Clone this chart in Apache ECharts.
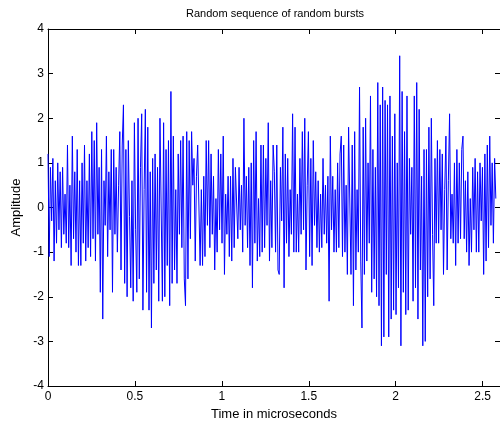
<!DOCTYPE html>
<html>
<head>
<meta charset="utf-8">
<script src="https://cdn.jsdelivr.net/npm/echarts@6/dist/echarts.min.js"></script>
<style>html,body{margin:0;padding:0;background:#fff}#c{width:500px;height:426px}</style>
</head>
<body>
<div id="c"></div>
<script>
var titleText = 'Random sequence of random bursts';
var xName = 'Time in microseconds';
var yName = 'Amplitude';
var xTicks = [0, 0.5, 1, 1.5, 2, 2.5];
var yTicks = [-4, -3, -2, -1, 0, 1, 2, 3, 4];
var timeStep = 0.007; // microseconds between samples
var amplitude = [
  1.2, -1.1, 0.9, -0.3, 1.1, -1.2, 0.6, -0.8, 1.0, -0.5, 0.8, -0.9, 0.9, -0.6, 0.3, -0.8, 1.4, -0.9, 0.5, -1.3, 1.6, -0.7, 0.8, -1.0, 1.3, -1.3, 0.6, -1.3, 1.0, -0.8, 1.4,
  -1.2, 0.6, -0.9, 1.2, -1.1, 1.7, -0.7, 1.5, -1.2, 1.9, -0.6, 0.9, -1.9, 1.3, -2.5, 0.6, -0.4, 1.6, -1.1, 0.8, -0.5, 1.3, -1.9, 1.3, -0.6, 0.9, -1.0, 0.5, 1.7, -1.4, 1.4,
  2.3, -1.7, 1.3, -2.0, 1.5, -0.2, -1.8, 0.6, -2.1, 1.9, -0.5, -1.9, 2.0, -1.6, 0.9, 2.1, -2.3, 0.4, 2.2, -1.9, 1.8, -2.3, 0.8, -2.7, 1.1, -1.7, 1.2, -1.4, 0.9, -2.1, 2.0,
  2.0, -2.1, 1.9, -2.0, 1.3, -1.3, 1.5, -2.2, 2.6, -1.7, 1.6, -1.4, 0.4, -1.7, 1.2, -0.6, 1.5, -0.9, 1.6, -1.6, -2.2, 1.7, -1.6, 1.5, -0.7, 1.7, 0.5, 1.1, -1.2, 0.7, 1.4,
  1.4, -1.3, 0.4, -1.3, 0.7, -1.1, 1.5, -0.4, 1.5, -0.9, 1.2, -0.6, 0.7, -1.4, 0.2, -1.0, 1.3, -0.5, 1.2, -0.8, 1.6, -1.5, 0.3, -0.6, 0.7, -1.1, 0.7, -1.2, 1.1, -0.9, 0.9,
  0.9, -0.7, 0.9, -0.5, 0.5, -1.0, 2.0, -0.4, 0.7, -0.9, 0.9, -1.3, 1.0, -1.8, 1.5, -0.8, 1.7, -1.2, 0.2, -1.1, 1.4, -1.0, 1.4, -0.9, 1.1, -0.4, 1.9, -1.2, 0.6, -0.9, 1.4,
  0.8, -1.0, 1.4, -1.4, -1.5, 0.9, -0.3, 1.8, -1.8, 1.2, -0.8, 1.1, -1.1, 0.4, -0.6, 2.1, -1.0, 1.8, -1.0, 0.3, -1.0, 1.1, -0.6, 1.7, -0.5, 2.0, -1.4, 0.5, 1.7, -1.1, 1.1,
  -1.3, 1.5, -0.4, 0.8, -0.9, 0.6, -1.0, 0.3, -0.9, 1.1, -0.6, 0.5, -0.8, 0.7, -2.1, 1.6, -0.5, 0.7, -1.0, 0.4, -1.0, 1.0, -0.9, 1.2, 1.6, -1.1, 1.4, -1.0, 0.5, -1.5, 1.8,
  1.8, -1.5, 1.4, -2.2, 1.7, -1.4, 0.4, -1.0, 2.7, -1.2, -2.7, 1.8, -1.5, 2.0, -1.2, 1.0, -0.8, 2.5, -1.9, 1.3, -1.6, 0.9, -2.0, 2.8, -2.2, 2.3, -3.1, 2.7, -2.9, 2.4, -1.5,
  2.3, -2.9, 2.5, -2.5, 1.6, -2.3, 2.1, -2.4, 1.0, -1.8, 3.4, -3.1, 2.6, -1.9, 1.7, -2.4, 2.5, -2.3, 1.1, -0.6, 0.9, -2.1, 2.5, -1.8, 2.8, -2.5, 2.2, -1.4, 0.7, -3.1, 1.3,
  -3.0, 1.3, -2.0, 1.8, -1.6, 2.0, -0.6, -2.2, 1.1, -0.8, 1.5, -0.8, 1.3, -0.5, 1.2, -1.5, 0.4, 1.6, -1.4, 0.6, 2.1, -0.7, 0.3, -0.8, 1.0, -1.3, 1.3, -0.8, 1.0, -0.7, 1.3,
  1.6, -0.7, 0.6, -1.0, 0.8, -1.3, 0.2, -1.0, 0.9, -0.5, 1.1, -1.0, 0.8, -1.0, 1.0, -0.3, 0.9, -1.5, 1.2, -1.2, 1.4, -0.9, 1.6, -0.4, 1.0, -0.8, 1.1, 0.2
];

var seriesData = amplitude.map(function (v, i) { return [i * timeStep, v]; });
var FONT = 'Liberation Sans, Arial, Helvetica, sans-serif';

var chart = echarts.init(document.getElementById('c'), null, { renderer: 'canvas' });
var axisLineStyle = { color: '#000', width: 1 };
chart.setOption({
  animation: false,
  backgroundColor: '#fff',
  title: {
    text: titleText, left: 270, top: 3, textAlign: 'center',
    textStyle: { fontFamily: FONT, fontSize: 11, fontWeight: 'normal', color: '#000' }
  },
  grid: { left: 48, top: 29, width: 453.7, height: 357, containLabel: false },
  xAxis: [{
    type: 'value', min: xTicks[0], max: 2.6, interval: 0.5, position: 'bottom',
    name: xName, nameLocation: 'middle', nameGap: 20,
    nameTextStyle: { fontFamily: FONT, fontSize: 13, color: '#000' },
    axisLine: { onZero: false, lineStyle: axisLineStyle },
    axisTick: { inside: true, length: 5, lineStyle: axisLineStyle },
    axisLabel: { fontFamily: FONT, fontSize: 12, color: '#000', margin: 5, showMaxLabel: false,
      formatter: function (v) { return xTicks.indexOf(v) >= 0 ? String(v) : ''; } },
    splitLine: { show: false }
  }, {
    type: 'value', min: xTicks[0], max: 2.6, interval: 0.5, position: 'top',
    axisLine: { onZero: false, lineStyle: axisLineStyle },
    axisTick: { inside: true, length: 5, lineStyle: axisLineStyle },
    axisLabel: { show: false }, splitLine: { show: false }
  }],
  yAxis: [{
    type: 'value', min: yTicks[0], max: yTicks[yTicks.length - 1], interval: 1, position: 'left',
    name: yName, nameLocation: 'middle', nameGap: 23,
    nameTextStyle: { fontFamily: FONT, fontSize: 13, color: '#000' },
    axisLine: { onZero: false, lineStyle: axisLineStyle },
    axisTick: { inside: true, length: 5, lineStyle: axisLineStyle },
    axisLabel: { fontFamily: FONT, fontSize: 12, color: '#000', margin: 4 },
    splitLine: { show: false }
  }, {
    type: 'value', min: yTicks[0], max: yTicks[yTicks.length - 1], interval: 1, position: 'right',
    axisLine: { onZero: false, lineStyle: axisLineStyle },
    axisTick: { inside: true, length: 5, lineStyle: axisLineStyle },
    axisLabel: { show: false }, splitLine: { show: false }
  }],
  series: [{
    type: 'line', data: seriesData, xAxisIndex: 0, yAxisIndex: 0,
    showSymbol: false, symbol: 'none', sampling: null,
    lineStyle: { color: '#0000ff', width: 1 }, itemStyle: { color: '#0000ff' }
  }]
});
</script>
</body>
</html>
